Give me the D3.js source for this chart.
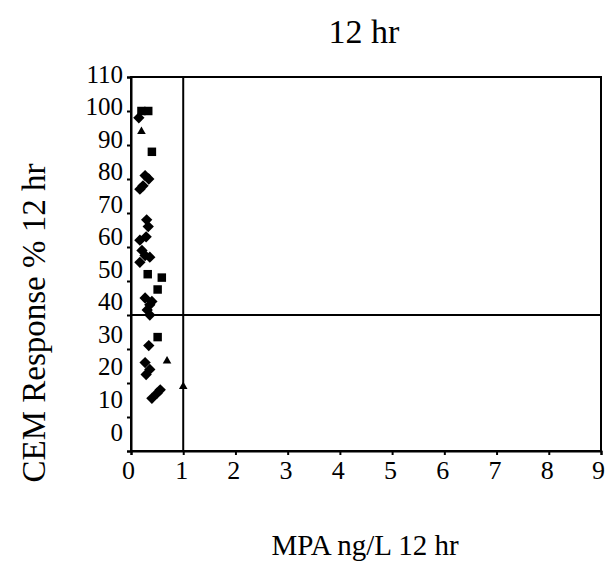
<!DOCTYPE html>
<html>
<head>
<meta charset="utf-8">
<script src="https://cdn.jsdelivr.net/npm/d3@7"></script>
<style>
  html, body { margin: 0; padding: 0; background: #fff; }
  svg { display: block; }
  text { font-family: "Liberation Serif", "Times New Roman", serif; fill: #000; }
</style>
</head>
<body>
<svg id="chart" width="606" height="561"></svg>
<script>
// MPA concentration (mg/L) vs CEM response (%) at 12 hr
const squareX = [0.20, 0.33, 0.40, 0.32, 0.59, 0.51, 0.51];
const squareY = [100, 100, 88, 52, 51, 47.5, 33.5];

const diamondX = [0.15, 0.27, 0.34, 0.23, 0.17, 0.30, 0.33, 0.17, 0.29, 0.21, 0.27, 0.36, 0.17,
                  0.27, 0.40, 0.36, 0.31, 0.36, 0.34, 0.27, 0.36, 0.29, 0.56, 0.50, 0.40];
const diamondY = [98, 81, 80, 78, 77, 68, 66, 62, 63, 59, 57.5, 57, 55.5,
                  45, 44, 43, 41.5, 40, 31, 26, 24, 22.5, 18, 17, 15.5];

const triangleX = [0.20, 0.69, 1.0];
const triangleY = [94, 26.5, 19];

const xTicks = [0, 1, 2, 3, 4, 5, 6, 7, 8, 9];
const yTicks = [0, 10, 20, 30, 40, 50, 60, 70, 80, 90, 100, 110];
const xRefValue = 1;
const yRefValue = 40;

const titleText = "12 hr";
const xTitle = "MPA ng/L 12 hr";
const yTitle = "CEM Response % 12 hr";

const svg = d3.select("#chart");
const margin = { left: 131, top: 77, right: 5, bottom: 110 };
const W = 606, H = 561;
const pw = W - margin.left - margin.right;
const ph = H - margin.top - margin.bottom;

const x = d3.scaleLinear().domain([0, 9]).range([margin.left, margin.left + pw]);
const y = d3.scaleLinear().domain([0, 110]).range([margin.top + ph, margin.top]);
// tick labels on the value axis sit on a slightly tighter spacing than the ticks
const yLabel = d3.scaleLinear().domain([0, 110]).range([margin.top + ph - 19, margin.top - 3]);

// title
svg.append("text")
  .attr("x", 364).attr("y", 43)
  .attr("text-anchor", "middle")
  .style("font-size", "34px")
  .text(titleText);

// frame
svg.append("rect")
  .attr("x", x(0)).attr("y", y(110))
  .attr("width", x(9) - x(0)).attr("height", y(0) - y(110))
  .attr("fill", "none").attr("stroke", "#000").attr("stroke-width", 2);

// x axis
const gx = svg.append("g")
  .attr("transform", `translate(0,${y(0)})`)
  .call(d3.axisBottom(x).tickValues(xTicks).tickSize(4).tickPadding(6).tickFormat(d3.format("d")));
gx.select(".domain").attr("stroke-width", 2);
gx.selectAll(".tick line").attr("stroke-width", 2);
gx.selectAll(".tick text")
  .style("font-family", "'Liberation Serif', serif")
  .style("font-size", "26px")
  .attr("dx", d => d === 9 ? "-0.12em" : (d === 0 ? "-0.12em" : "-0.08em"));

// y axis ticks
const gy = svg.append("g")
  .attr("transform", `translate(${x(0)},0)`)
  .call(d3.axisLeft(y).tickValues(yTicks).tickSize(4).tickFormat(""));
gy.select(".domain").attr("stroke-width", 2);
gy.selectAll(".tick line").attr("stroke-width", 2);

// y tick labels
svg.append("g").selectAll("text")
  .data(yTicks)
  .join("text")
  .attr("x", 123)
  .attr("y", d => yLabel(d))
  .attr("dy", "0.34em")
  .attr("text-anchor", "end")
  .style("font-size", "25px")
  .text(d => d);

// reference lines
svg.append("line")
  .attr("x1", x(xRefValue)).attr("x2", x(xRefValue))
  .attr("y1", y(110)).attr("y2", y(0))
  .attr("stroke", "#000").attr("stroke-width", 2);
svg.append("line")
  .attr("x1", x(0)).attr("x2", x(9))
  .attr("y1", y(yRefValue)).attr("y2", y(yRefValue))
  .attr("stroke", "#000").attr("stroke-width", 2);

// markers
const marks = svg.append("g");
marks.selectAll(".sq")
  .data(d3.zip(squareX, squareY))
  .join("path")
  .attr("class", "sq")
  .attr("transform", d => `translate(${x(d[0])},${y(d[1])})`)
  .attr("d", d3.symbol(d3.symbolSquare, 72))
  .attr("fill", "#000");

marks.selectAll(".dm")
  .data(d3.zip(diamondX, diamondY))
  .join("path")
  .attr("class", "dm")
  .attr("transform", d => `translate(${x(d[0])},${y(d[1])}) rotate(45)`)
  .attr("d", d3.symbol(d3.symbolSquare, 64))
  .attr("fill", "#000");

marks.selectAll(".tr")
  .data(d3.zip(triangleX, triangleY))
  .join("path")
  .attr("class", "tr")
  .attr("transform", d => `translate(${x(d[0])},${y(d[1])})`)
  .attr("d", d3.symbol(d3.symbolTriangle, 32))
  .attr("fill", "#000");

// axis titles
svg.append("text")
  .attr("x", 365).attr("y", 555)
  .attr("text-anchor", "middle")
  .style("font-size", "29px")
  .text(xTitle);

svg.append("text")
  .attr("transform", "translate(45,323) rotate(-90)")
  .attr("text-anchor", "middle")
  .style("font-size", "33px")
  .text(yTitle);
</script>
</body>
</html>
